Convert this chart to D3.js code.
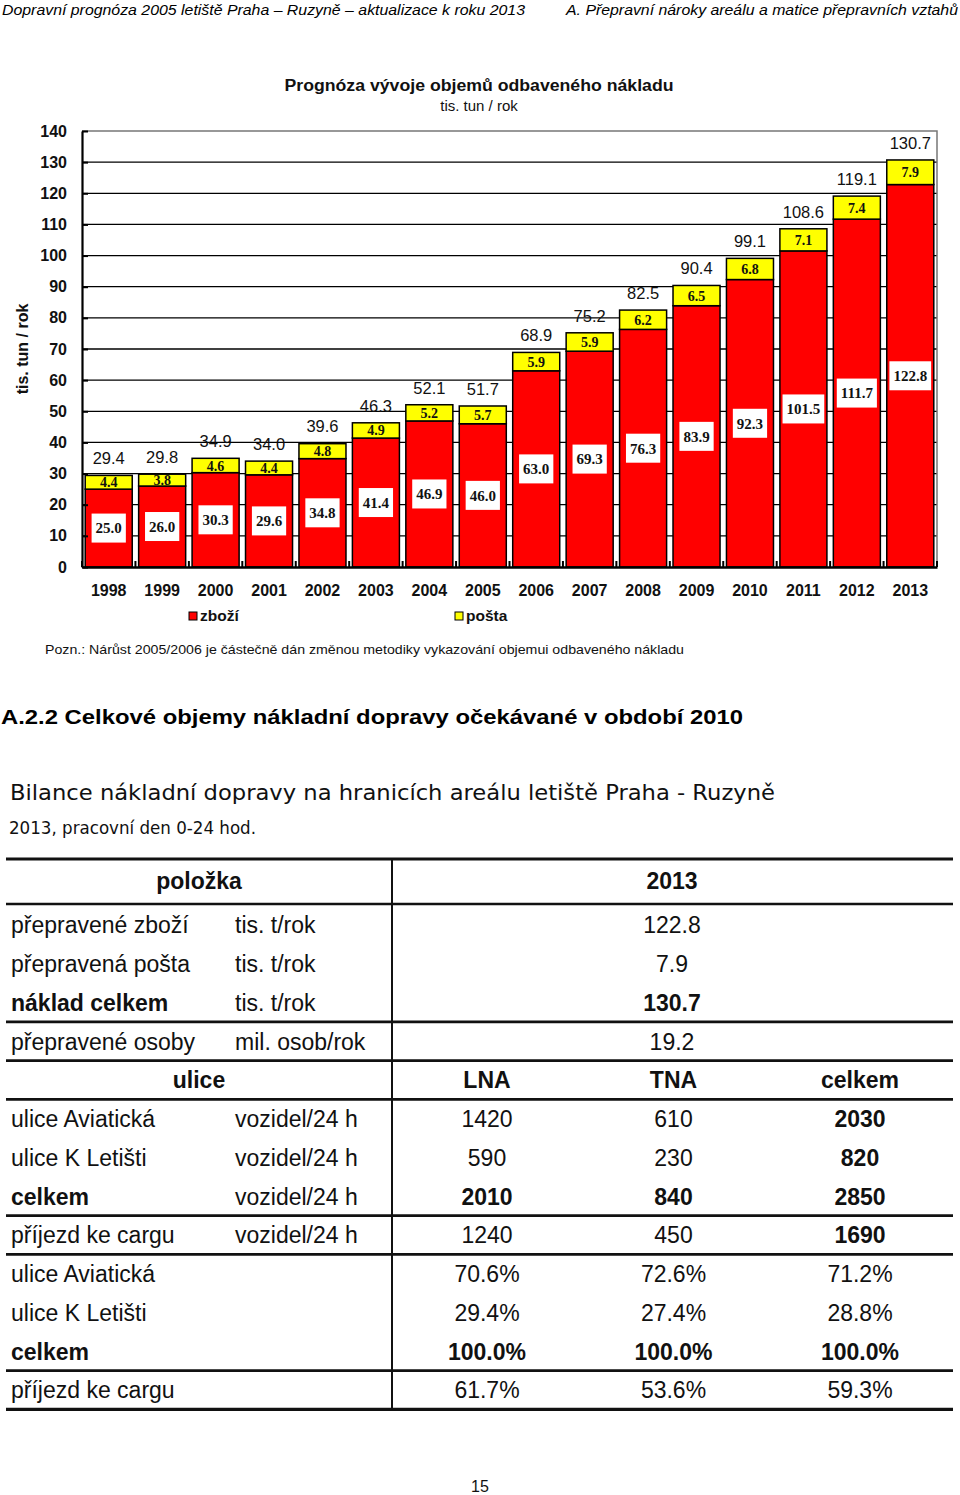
<!DOCTYPE html>
<html><head><meta charset="utf-8">
<script src="https://cdn.jsdelivr.net/npm/d3@7"></script>
<style>body{margin:0;background:#fff} svg{display:block}</style>
</head><body>
<svg id="page" width="960" height="1495"></svg>
<script>
// ---------- chart data ----------
const years = ["1998","1999","2000","2001","2002","2003","2004","2005","2006","2007","2008","2009","2010","2011","2012","2013"];
const zbozi = [25.0,26.0,30.3,29.6,34.8,41.4,46.9,46.0,63.0,69.3,76.3,83.9,92.3,101.5,111.7,122.8];
const posta = [4.4,3.8,4.6,4.4,4.8,4.9,5.2,5.7,5.9,5.9,6.2,6.5,6.8,7.1,7.4,7.9];
const yTicks = [0,10,20,30,40,50,60,70,80,90,100,110,120,130,140];
const seriesNames = ["zboží","pošta"];
const seriesColors = ["#ff0000","#ffff00"];

// ---------- table data ----------
const tableHead = ["položka","2013"];
const tableA_labels = ["přepravené zboží","přepravená pošta","náklad celkem","přepravené osoby"];
const tableA_units = ["tis. t/rok","tis. t/rok","tis. t/rok","mil. osob/rok"];
const tableA_values = ["122.8","7.9","130.7","19.2"];
const tableA_bold = [false,false,true,false];
const tableB_head = ["ulice","LNA","TNA","celkem"];
const tableB_labels = ["ulice Aviatická","ulice K Letišti","celkem","příjezd ke cargu"];
const tableB_units = ["vozidel/24 h","vozidel/24 h","vozidel/24 h","vozidel/24 h"];
const tableB_LNA = ["1420","590","2010","1240"];
const tableB_TNA = ["610","230","840","450"];
const tableB_celkem = ["2030","820","2850","1690"];
const tableB_bold = [false,false,true,false];
const tableC_labels = ["ulice Aviatická","ulice K Letišti","celkem","příjezd ke cargu"];
const tableC_LNA = ["70.6%","29.4%","100.0%","61.7%"];
const tableC_TNA = ["72.6%","27.4%","100.0%","53.6%"];
const tableC_celkem = ["71.2%","28.8%","100.0%","59.3%"];
const tableC_bold = [false,false,true,false];

const svg = d3.select("#page");
const SANS = "'Liberation Sans', Arial, sans-serif";
const SERIF = "'Liberation Serif', 'Times New Roman', serif";

// ---------- page header ----------
svg.append("text").attr("x",2).attr("y",15).attr("font-family",SANS).attr("font-style","italic")
  .attr("font-size",15).attr("textLength",523).attr("lengthAdjust","spacingAndGlyphs")
  .text("Dopravní prognóza 2005 letiště Praha – Ruzyně – aktualizace k roku 2013");
svg.append("text").attr("x",566).attr("y",15).attr("font-family",SANS).attr("font-style","italic")
  .attr("font-size",15).attr("textLength",392).attr("lengthAdjust","spacingAndGlyphs")
  .text("A. Přepravní nároky areálu a matice přepravních vztahů");

// ---------- chart ----------
const M = {left:82, right:937, top:131, bottom:567};
const x = d3.scaleBand().domain(years).range([M.left, M.right]).paddingInner(0.12).paddingOuter(0.06);
const y = d3.scaleLinear().domain([0,140]).range([M.bottom, M.top]);

const chart = svg.append("g");
chart.append("text").attr("x",479).attr("y",91).attr("text-anchor","middle").attr("font-family",SANS)
  .attr("font-weight","bold").attr("font-size",16).attr("fill","#111")
  .attr("textLength",389).attr("lengthAdjust","spacingAndGlyphs")
  .text("Prognóza vývoje objemů odbaveného nákladu");
chart.append("text").attr("x",479).attr("y",111).attr("text-anchor","middle").attr("font-family",SANS)
  .attr("font-size",15).attr("fill","#111").text("tis. tun / rok");

// gridlines
chart.append("g").selectAll("line").data(yTicks.filter(d => d > 0 && d < 140)).join("line")
  .attr("x1",M.left).attr("x2",M.right).attr("y1",d=>y(d)).attr("y2",d=>y(d))
  .attr("stroke","#000").attr("stroke-width",1.3);
// plot border (top + right)
chart.append("path").attr("d",`M${M.left},${y(140)}H${M.right}V${M.bottom}`)
  .attr("fill","none").attr("stroke","#777").attr("stroke-width",1.5);

// bars
const data = years.map((yr,i)=>({year:yr, "zboží":zbozi[i], "pošta":posta[i]}));
const stack = d3.stack().keys(seriesNames)(data);
const color = d3.scaleOrdinal().domain(seriesNames).range(seriesColors);
chart.append("g").selectAll("g").data(stack).join("g").attr("fill",d=>color(d.key))
  .selectAll("rect").data(d=>d).join("rect")
  .attr("x",d=>x(d.data.year)).attr("width",x.bandwidth())
  .attr("y",d=>y(d[1])).attr("height",d=>y(d[0])-y(d[1]))
  .attr("stroke","#000").attr("stroke-width",1.5);

// axes
const yAxis = chart.append("g").attr("transform",`translate(${M.left},0)`)
  .call(d3.axisLeft(y).tickValues(yTicks).tickSizeInner(-6).tickSizeOuter(0).tickPadding(15));
yAxis.select(".domain").attr("stroke","#000").attr("stroke-width",2.2);
yAxis.selectAll(".tick line").attr("stroke","#000").attr("stroke-width",2);
yAxis.selectAll("text").attr("font-family",SANS).attr("font-weight","bold").attr("font-size",16).attr("fill","#111");

const xAxis = chart.append("g").attr("transform",`translate(0,${M.bottom})`)
  .call(d3.axisBottom(x).tickSize(0).tickPadding(18));
xAxis.select(".domain").attr("stroke","#000").attr("stroke-width",2.5);
xAxis.selectAll("text").attr("font-family",SANS).attr("font-weight","bold").attr("font-size",16).attr("fill","#111");
// category separator ticks
const step = x.step();
const sepX = years.map(d => x(d) - step*x.paddingInner()/2).concat([x(years[years.length-1]) + x.bandwidth() + step*x.paddingInner()/2]);
chart.append("g").selectAll("line").data(sepX).join("line")
  .attr("x1",d=>d).attr("x2",d=>d).attr("y1",M.bottom).attr("y2",M.bottom-6)
  .attr("stroke","#000").attr("stroke-width",2);

// y-axis title
chart.append("text").attr("transform","translate(28,349) rotate(-90)").attr("text-anchor","middle")
  .attr("font-family",SANS).attr("font-weight","bold").attr("font-size",16).attr("fill","#111")
  .text("tis. tun / rok");

// total labels
chart.append("g").selectAll("text").data(data).join("text")
  .attr("x",d=>x(d.year)+x.bandwidth()/2)
  .attr("y",d=>y(d["zboží"]+d["pošta"]) - 17).attr("dy","0.35em")
  .attr("text-anchor","middle").attr("font-family",SANS).attr("font-size",16.5).attr("fill","#111")
  .text(d=>(d["zboží"]+d["pošta"]).toFixed(1));

// pošta labels
chart.append("g").selectAll("text").data(data).join("text")
  .attr("x",d=>x(d.year)+x.bandwidth()/2)
  .attr("y",d=>y(d["zboží"]+d["pošta"]/2)).attr("dy","0.36em")
  .attr("text-anchor","middle").attr("font-family",SERIF).attr("font-weight","bold").attr("font-size",14).attr("fill","#111")
  .text(d=>d["pošta"].toFixed(1));

// zboží labels with white boxes
const zl = chart.append("g").selectAll("g").data(data).join("g")
  .attr("transform",d=>`translate(${x(d.year)+x.bandwidth()/2},${y(d["zboží"]/2)})`);
zl.append("text").attr("text-anchor","middle").attr("dy","0.36em")
  .attr("font-family",SERIF).attr("font-weight","bold").attr("font-size",15).attr("fill","#111")
  .text(d=>d["zboží"].toFixed(1));
zl.each(function(){
  const g = d3.select(this);
  const w = g.select("text").node().getComputedTextLength();
  g.insert("rect","text").attr("x",-w/2-4).attr("y",-14.5).attr("width",w+8).attr("height",29).attr("fill","#fff");
});

// legend
const legend = chart.append("g");
const legX = [189,455];
seriesNames.forEach((n,i)=>{
  legend.append("rect").attr("x",legX[i]).attr("y",612).attr("width",8).attr("height",8)
    .attr("fill",seriesColors[i]).attr("stroke","#000").attr("stroke-width",1);
  legend.append("text").attr("x",legX[i]+11).attr("y",621).attr("font-family",SANS).attr("font-weight","bold")
    .attr("font-size",15.5).attr("fill","#111").text(n);
});

// note
svg.append("text").attr("x",45).attr("y",654).attr("font-family",SANS).attr("font-size",13)
  .attr("textLength",639).attr("lengthAdjust","spacingAndGlyphs").attr("fill","#111")
  .text("Pozn.: Nárůst 2005/2006 je částečně dán změnou metodiky vykazování objemui odbaveného nákladu");

// section heading
svg.append("text").attr("x",1).attr("y",724).attr("font-family",SANS).attr("font-weight","bold").attr("font-size",21)
  .attr("textLength",742).attr("lengthAdjust","spacingAndGlyphs").attr("fill","#000")
  .text("A.2.2 Celkové objemy nákladní dopravy očekávané v období 2010");

// table title
svg.append("text").attr("x",10).attr("y",800).attr("font-family","'DejaVu Sans', Verdana, sans-serif").attr("font-size",21)
  .attr("textLength",765).attr("lengthAdjust","spacingAndGlyphs").attr("fill","#111")
  .text("Bilance nákladní dopravy na hranicích areálu letiště Praha - Ruzyně");
svg.append("text").attr("x",9).attr("y",834).attr("font-family","'DejaVu Sans', Verdana, sans-serif").attr("font-size",17)
  .attr("textLength",247).attr("lengthAdjust","spacingAndGlyphs").attr("fill","#111")
  .text("2013, pracovní den 0-24 hod.");

// ---------- table ----------
const T = svg.append("g").attr("font-family",SANS).attr("fill","#111");
const rowY = d3.scaleLinear().domain([1,13]).range([925,1390]);
const headY = 881;
const colLabel = 11, colUnit = 235, colSingle = 672;
const colX = d3.scalePoint().domain(["LNA","TNA","celkem"]).range([487,860]);
const FS = 23;

function txt(xp, yp, s, bold, anchor){
  T.append("text").attr("x",xp).attr("y",yp).attr("dy","0.36em").attr("font-size",FS)
    .attr("font-weight",bold?"bold":"normal").attr("text-anchor",anchor||"start").text(s);
}
// header
txt(199, headY, tableHead[0], true, "middle");
txt(colSingle, headY, tableHead[1], true, "middle");
// block A
tableA_labels.forEach((l,i)=>{
  const yy = rowY(1+i);
  txt(colLabel, yy, l, tableA_bold[i]);
  txt(colUnit, yy, tableA_units[i], false);
  txt(colSingle, yy, tableA_values[i], tableA_bold[i], "middle");
});
// block B header
txt(199, rowY(5), tableB_head[0], true, "middle");
tableB_head.slice(1).forEach(h=>txt(colX(h), rowY(5), h, true, "middle"));
// block B
tableB_labels.forEach((l,i)=>{
  const yy = rowY(6+i);
  txt(colLabel, yy, l, tableB_bold[i]);
  txt(colUnit, yy, tableB_units[i], false);
  txt(colX("LNA"), yy, tableB_LNA[i], tableB_bold[i], "middle");
  txt(colX("TNA"), yy, tableB_TNA[i], tableB_bold[i], "middle");
  txt(colX("celkem"), yy, tableB_celkem[i], true, "middle");
});
// block C
tableC_labels.forEach((l,i)=>{
  const yy = rowY(10+i);
  txt(colLabel, yy, l, tableC_bold[i]);
  txt(colX("LNA"), yy, tableC_LNA[i], tableC_bold[i], "middle");
  txt(colX("TNA"), yy, tableC_TNA[i], tableC_bold[i], "middle");
  txt(colX("celkem"), yy, tableC_celkem[i], tableC_bold[i], "middle");
});
// rules
const ruleAfter = [3,4,5,8,9,12];
const rules = [859, 904].concat(ruleAfter.map(r=>rowY(r)+19.4)).concat([rowY(13)+19.4]);
T.append("g").selectAll("line").data(rules).join("line")
  .attr("x1",6).attr("x2",953).attr("y1",d=>d).attr("y2",d=>d)
  .attr("stroke","#111").attr("stroke-width",(d,i)=> (i===0||i===rules.length-1) ? 3.2 : 2.6);
T.append("line").attr("x1",392).attr("x2",392).attr("y1",859).attr("y2",rules[rules.length-1])
  .attr("stroke","#111").attr("stroke-width",2);

// page number
svg.append("text").attr("x",480).attr("y",1492).attr("text-anchor","middle").attr("font-family",SANS)
  .attr("font-size",16).attr("fill","#111").text("15");
</script>
</body></html>
